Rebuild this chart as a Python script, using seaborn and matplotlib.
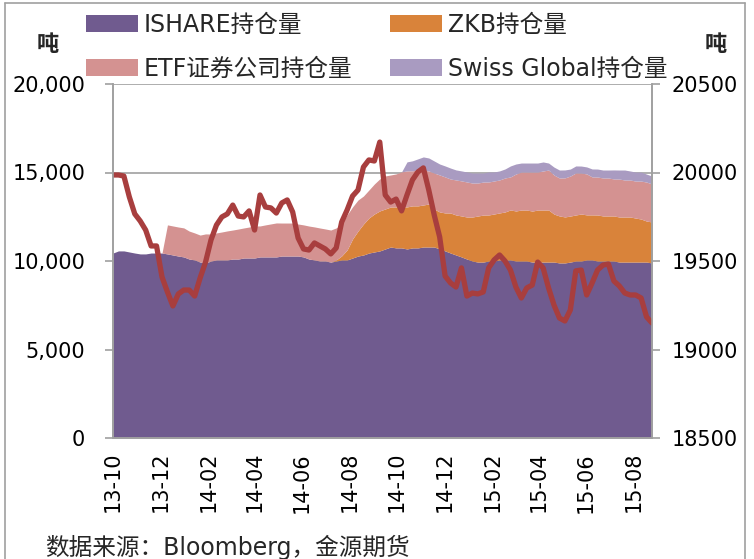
import numpy as np
import pandas as pd
import matplotlib
matplotlib.use("Agg")
import matplotlib.pyplot as plt
import matplotlib.dates as mdates
from matplotlib.ticker import FuncFormatter, MultipleLocator
from matplotlib.patches import Patch
from matplotlib.lines import Line2D
import seaborn as sns

sns.set_style("white")
plt.rcParams['font.family'] = ['DejaVu Sans', 'Noto Sans CJK SC']

# weekly dates, 2013-10 .. 2015-08
dates = pd.date_range("2013-10-01", periods=100, freq="7D")

ishare = [10450, 10570, 10570, 10510, 10450, 10400, 10400, 10450, 10450, 10450,
          10400, 10340, 10280, 10230, 10110, 10060, 9940, 9890, 10000, 10060,
          10060, 10060, 10110, 10110, 10170, 10170, 10170, 10230, 10230, 10230,
          10230, 10280, 10280, 10280, 10280, 10230, 10110, 10060, 10000, 10000,
          9940, 10000, 10060, 10060, 10170, 10280, 10340, 10450, 10510, 10570,
          10680, 10790, 10740, 10740, 10680, 10740, 10740, 10790, 10790, 10790,
          10680, 10570, 10450, 10340, 10230, 10110, 10000, 9940, 9940, 10000,
          10000, 10060, 10060, 10060, 10000, 10000, 10000, 9940, 9940, 9940,
          9940, 9940, 9890, 9890, 9940, 10000, 10000, 10060, 10060, 10000,
          10000, 10000, 10000, 9940, 9940, 9940, 9940, 9940, 9940, 9890]

zkb = [0] * 41 + [60, 230, 565, 1075, 1415, 1750, 1980, 2145, 2260,
                  2260, 2260, 2315, 2315, 2375, 2375, 2375, 2375, 2430, 2145,
                  2090, 2145, 2260, 2260, 2315, 2375, 2485, 2600, 2655, 2600,
                  2655, 2655, 2710, 2825, 2825, 2880, 2880, 2880, 2940, 2940,
                  2940, 2710, 2655, 2600, 2600, 2600, 2655, 2545, 2545, 2600,
                  2545, 2545, 2545, 2545, 2545, 2545, 2485, 2430, 2315, 2315]

etf = [0] * 10 + [1640, 1640, 1640, 1640, 1580, 1525, 1525, 1640, 1525, 1525,
                  1580, 1640, 1640, 1695, 1695, 1750, 1810, 1750, 1810, 1865,
                  1920, 1865, 1865, 1865, 1810, 1810, 1865, 1865, 1865, 1810,
                  1810, 1810, 1810, 1980, 1810, 1750, 1580, 1580, 1695, 1810,
                  1865, 1810, 1865, 1980, 2035, 1980, 2035, 1980, 1865, 2035,
                  2090, 2035, 1920, 1980, 1980, 1980, 1920, 1865, 1865, 1865,
                  1865, 1865, 1920, 1865, 2090, 2145, 2145, 2205, 2145, 2205,
                  2260, 2205, 2145, 2205, 2260, 2375, 2315, 2315, 2145, 2145,
                  2145, 2145, 2090, 2145, 2090, 2090, 2090, 2145, 2205, 2145]

swiss = [0] * 54 + [510, 565, 620, 735, 735, 680, 620, 620, 620, 565,
                    565, 565, 565, 565, 510, 565, 510, 510, 510, 620,
                    565, 510, 510, 510, 510, 510, 395, 450, 450, 450,
                    395, 395, 395, 395, 450, 450, 450, 450, 510, 510,
                    565, 510, 510, 510, 450, 450]

# right axis line
total = [19986, 19986, 19980, 19862, 19766, 19726, 19675, 19585, 19585, 19410,
         19325, 19246, 19314, 19336, 19336, 19302, 19404, 19494, 19619, 19703,
         19749, 19766, 19816, 19754, 19749, 19783, 19675, 19873, 19805, 19800,
         19771, 19828, 19845, 19777, 19630, 19568, 19562, 19602, 19585, 19568,
         19540, 19574, 19720, 19788, 19867, 19901, 20031, 20071, 20065, 20172,
         19873, 19833, 19850, 19783, 19873, 19958, 20003, 20026, 19901, 19760,
         19636, 19415, 19376, 19353, 19461, 19302, 19319, 19314, 19325, 19461,
         19506, 19534, 19500, 19449, 19353, 19291, 19348, 19364, 19494, 19461,
         19348, 19251, 19178, 19161, 19223, 19444, 19449, 19308, 19376, 19449,
         19477, 19483, 19387, 19359, 19319, 19308, 19308, 19291, 19184, 19150]

labels = ["ISHARE持仓量", "ZKB持仓量", "ETF证券公司持仓量", "Swiss Global持仓量"]
colors = ["#705B8F", "#D9833A", "#D49291", "#A99BC1"]
line_color = "#A83E3E"
grey = "#A0A0A0"

fig = plt.figure(figsize=(7.54, 5.59), dpi=100)
ax = fig.add_axes([113 / 754, 121 / 559, 539 / 754, 354 / 559])

ax.stackplot(dates, ishare, zkb, etf, swiss, colors=colors, linewidth=0)
ax.set_ylim(0, 20000)
ax.set_xlim(dates[0], dates[-1])
ax.yaxis.set_major_locator(MultipleLocator(5000))
ax.yaxis.set_major_formatter(FuncFormatter(lambda v, p: f"{int(v):,}"))
ax.grid(axis="y", color=grey, linewidth=1.2)
ax.set_axisbelow(True)

ax2 = ax.twinx()
sns.lineplot(x=dates, y=total, ax=ax2, color=line_color, linewidth=3.8)
ax2.set_ylim(18500, 20500)
ax2.yaxis.set_major_locator(MultipleLocator(500))
ax2.set_ylabel("")

ax.xaxis.set_major_locator(mdates.MonthLocator(bymonth=[2, 4, 6, 8, 10, 12]))
ax.xaxis.set_major_formatter(mdates.DateFormatter("%y-%m"))

for a in (ax, ax2):
    for s in a.spines.values():
        s.set_color(grey)
        s.set_linewidth(1.2)
    a.spines["top"].set_visible(False)
    a.tick_params(colors=grey, labelcolor="black", labelsize=15,
                  length=6, width=1.2, direction="out")
ax.tick_params(axis="x", rotation=90, pad=4)
ax.tick_params(axis="y", left=True, pad=14)
ax2.tick_params(axis="y", right=True, pad=8)

fig.text(48 / 754, 1 - 45 / 559, "吨", fontsize=16, fontweight="bold",
         ha="center", va="center")
fig.text(716 / 754, 1 - 45 / 559, "吨", fontsize=16, fontweight="bold",
         ha="center", va="center")

handles = [Patch(facecolor=c, edgecolor="none") for c in colors]
fig.legend([handles[0], handles[2], handles[1], handles[3]],
           [labels[0], labels[2], labels[1], labels[3]],
           ncol=2, loc="upper left", bbox_to_anchor=(86 / 754, 1 - 13 / 559),
           frameon=False, fontsize=17, handlelength=2.2, handleheight=0.75,
           handletextpad=0.25, labelspacing=0.85, columnspacing=1.6,
           borderpad=0, borderaxespad=0)

fig.text(45 / 754, 1 - 535 / 559, "数据来源：Bloomberg，金源期货", fontsize=17,
         ha="left", va="top")

# outer frame of the picture
fig.add_artist(Line2D([5 / 754, 5 / 754], [0, 1 - 3 / 559], color=grey, lw=1.2))
fig.add_artist(Line2D([745 / 754, 745 / 754], [0, 1 - 3 / 559], color=grey, lw=1.2))
fig.add_artist(Line2D([5 / 754, 745 / 754], [1 - 3 / 559, 1 - 3 / 559], color=grey, lw=1.2))

fig.savefig("out.png", dpi=100)
